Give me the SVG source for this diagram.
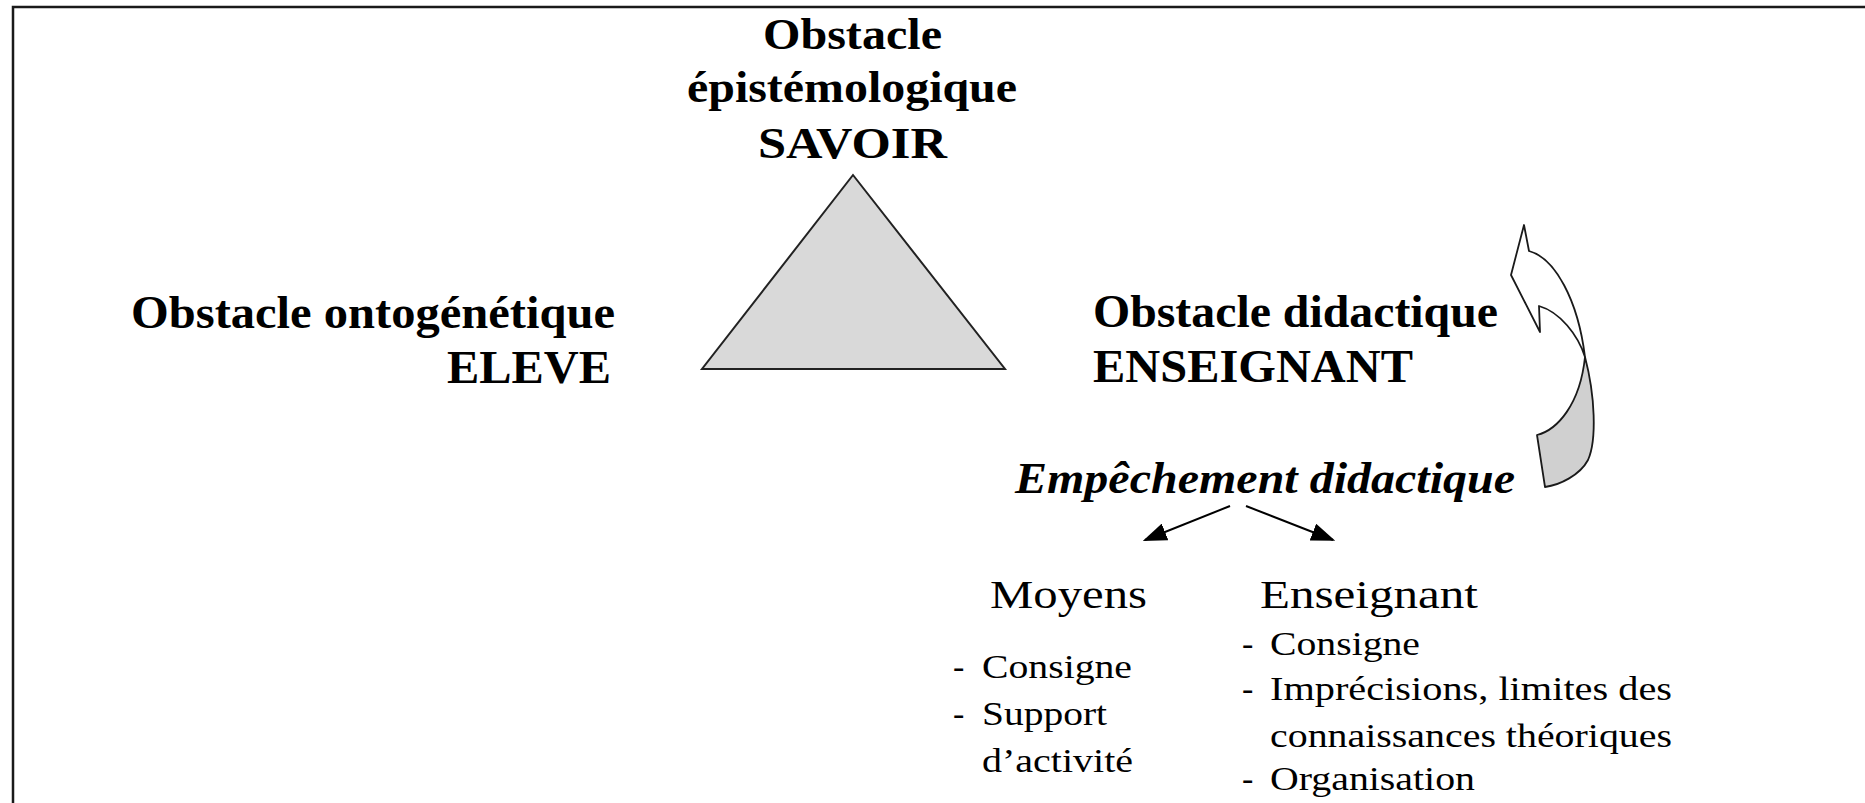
<svg xmlns="http://www.w3.org/2000/svg" width="1865" height="803" viewBox="0 0 1865 803">
<style>
.b{font-family:"Liberation Serif","Times New Roman",serif;font-weight:bold;fill:#000}
.bi{font-family:"Liberation Serif","Times New Roman",serif;font-weight:bold;font-style:italic;fill:#000}
.r{font-family:"Liberation Serif","Times New Roman",serif;fill:#000}
.con{stroke:#000;stroke-width:2;fill:none}
</style>
<defs>
<marker id="ah" viewBox="0 0 10 10" refX="9" refY="5" markerWidth="24" markerHeight="18" markerUnits="userSpaceOnUse" orient="auto" preserveAspectRatio="none">
<path d="M0,0 L10,5 L0,10 Z" fill="#000"/>
</marker>
</defs>
<rect x="0" y="0" width="1865" height="803" fill="#fff"/>
<path d="M13,820 L13,7 L1880,7" fill="none" stroke="#1a1a1a" stroke-width="2.5"/>

<g id="savoir">
<text class="b" font-size="45" x="763" y="49" textLength="179" lengthAdjust="spacingAndGlyphs">Obstacle</text>
<text class="b" font-size="45" x="687" y="102" textLength="330" lengthAdjust="spacingAndGlyphs">épistémologique</text>
<text class="b" font-size="45" x="758" y="158" textLength="189" lengthAdjust="spacingAndGlyphs">SAVOIR</text>
</g>

<g id="triangle">
<polygon points="853,175 702,369 1005,369" fill="#d9d9d9" stroke="#222" stroke-width="2"/>
</g>

<g id="eleve">
<text class="b" font-size="46" x="131" y="328" textLength="484" lengthAdjust="spacingAndGlyphs">Obstacle ontogénétique</text>
<text class="b" font-size="46" x="447" y="383" textLength="164" lengthAdjust="spacingAndGlyphs">ELEVE</text>
</g>

<g id="enseignant">
<text class="b" font-size="46" x="1093" y="327" textLength="405" lengthAdjust="spacingAndGlyphs">Obstacle didactique</text>
<text class="b" font-size="46" x="1093" y="382" textLength="320" lengthAdjust="spacingAndGlyphs">ENSEIGNANT</text>
</g>

<g id="curved-arrow">
<path d="M1585,357 C1595,395 1597,440 1588,460 C1580,475 1560,485 1545,487 L1537,435 C1557,430 1580,405 1585,357 Z" fill="#d0d0d0" stroke="#1a1a1a" stroke-width="1.8" stroke-linejoin="round"/>
<path d="M1524,225 L1529,251 C1555,258 1578,300 1585,357 C1578,335 1560,312 1539,306 L1540,332 L1511,275 Z" fill="#fff" stroke="#1a1a1a" stroke-width="1.8" stroke-linejoin="round"/>
</g>

<g id="empechement">
<text class="bi" font-size="45" x="1015" y="493" textLength="500" lengthAdjust="spacingAndGlyphs">Empêchement didactique</text>
</g>

<g id="connectors">
<line class="con" x1="1230" y1="506" x2="1145" y2="540" marker-end="url(#ah)"/>
<line class="con" x1="1246" y1="506" x2="1333" y2="540" marker-end="url(#ah)"/>
</g>

<g id="moyens">
<text class="r" font-size="40" x="990" y="608" textLength="157" lengthAdjust="spacingAndGlyphs">Moyens</text>
<text class="r" font-size="34" x="953" y="678">-</text>
<text class="r" font-size="34" x="982" y="678" textLength="150" lengthAdjust="spacingAndGlyphs">Consigne</text>
<text class="r" font-size="34" x="953" y="725">-</text>
<text class="r" font-size="34" x="982" y="725" textLength="125" lengthAdjust="spacingAndGlyphs">Support</text>
<text class="r" font-size="34" x="982" y="772" textLength="151" lengthAdjust="spacingAndGlyphs">d’activité</text>
</g>

<g id="enseignant-list">
<text class="r" font-size="40" x="1260" y="608" textLength="218" lengthAdjust="spacingAndGlyphs">Enseignant</text>
<text class="r" font-size="34" x="1242" y="655">-</text>
<text class="r" font-size="34" x="1270" y="655" textLength="150" lengthAdjust="spacingAndGlyphs">Consigne</text>
<text class="r" font-size="34" x="1242" y="700">-</text>
<text class="r" font-size="34" x="1270" y="700" textLength="402" lengthAdjust="spacingAndGlyphs">Imprécisions, limites des</text>
<text class="r" font-size="34" x="1270" y="747" textLength="402" lengthAdjust="spacingAndGlyphs">connaissances théoriques</text>
<text class="r" font-size="34" x="1242" y="790">-</text>
<text class="r" font-size="34" x="1270" y="790" textLength="205" lengthAdjust="spacingAndGlyphs">Organisation</text>
</g>
</svg>
